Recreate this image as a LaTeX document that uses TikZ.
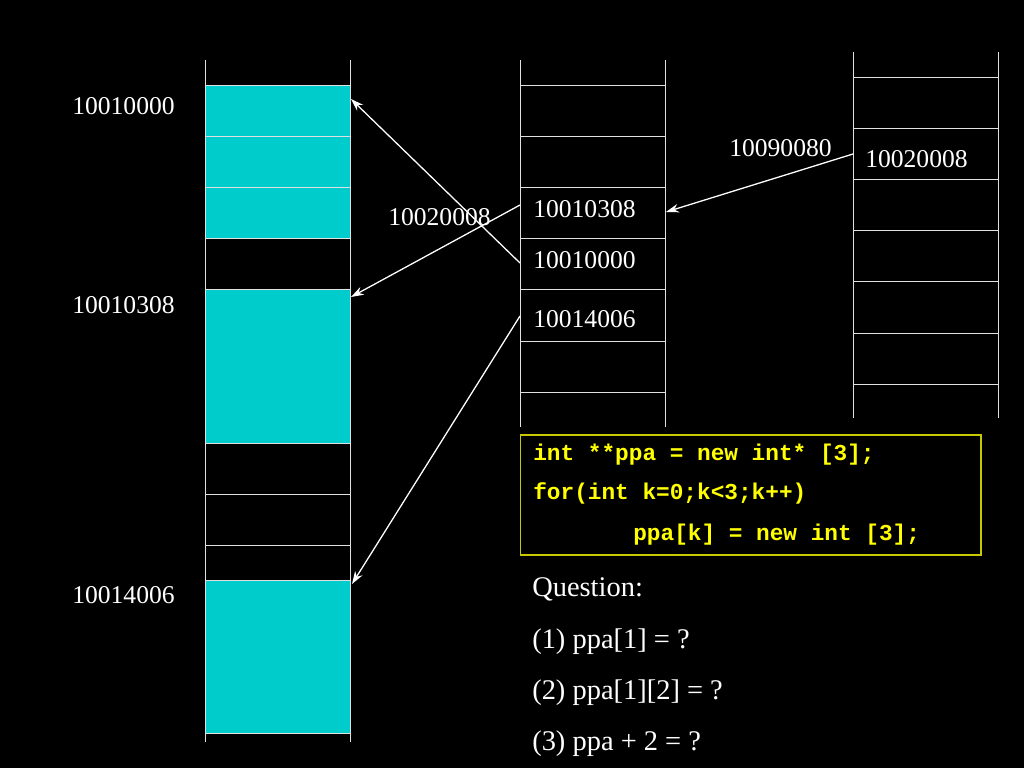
\documentclass[tikz,border=0pt]{standalone}
\usepackage{fontspec}
\setmainfont{Liberation Serif}
\setmonofont{Liberation Mono}
\usetikzlibrary{arrows.meta}
\definecolor{memcyan}{RGB}{0,204,204}
\definecolor{codeyellow}{RGB}{255,255,0}
\definecolor{boxyellow}{RGB}{200,200,0}
\definecolor{gridline}{RGB}{225,225,225}
\tikzset{
  num/.style={font=\fontsize{18}{20}\selectfont,text=white,inner sep=0pt,anchor=base west},
  ques/.style={font=\fontsize{20}{24}\selectfont,text=white,inner sep=0pt,anchor=base west},
  code/.style={font=\fontsize{16}{18}\selectfont\ttfamily\bfseries,text=codeyellow,inner sep=0pt,anchor=base west},
  ptr/.style={draw=white,line width=0.9pt,-{Stealth[length=9pt,width=6pt]}}
}
\begin{document}
\begin{tikzpicture}[x=0.703125pt,y=-0.703125pt]
\fill[black] (0,0) rectangle (1024,768);
\useasboundingbox (0,0) rectangle (1024,768);
% heap blocks
\fill[memcyan] (205,85) rectangle (350,238);
\fill[memcyan] (205,289) rectangle (350,443);
\fill[memcyan] (205,580) rectangle (350,733);
\draw[gridline] (205,60)--(205,742) (350,60)--(350,742);
\foreach \y in {85,136,187,238,289,443,494,545,580,733}
  \draw[gridline] (205,\y)--(350,\y);
% ppa array
\draw[gridline] (520,60)--(520,427) (665,60)--(665,427);
\foreach \y in {85,136,187,238,289,341,392}
  \draw[gridline] (520,\y)--(665,\y);
% stack
\draw[gridline] (853,52)--(853,418) (998,52)--(998,418);
\foreach \y in {77,128,179,230,281,333,384}
  \draw[gridline] (853,\y)--(998,\y);
% addresses
\node[num] (blkA) at (72,115) {10010000};
\node[num] (blkB) at (72,313) {10010308};
\node[num] (blkC) at (72,603) {10014006};
\node[num] (ppaaddr) at (388,226) {10020008};
\node[num] (cellA) at (533,217.5) {10010308};
\node[num] (cellB) at (533,269) {10010000};
\node[num] (cellC) at (533,328) {10014006};
\node[num] (stkaddr) at (729,157) {10090080};
\node[num] (stkval) at (865,167.5) {10020008};
% pointer ends
\coordinate (fromA) at (520,205);
\coordinate (fromB) at (520,263);
\coordinate (fromC) at (520,316);
\coordinate (toA) at (351,99);
\coordinate (toB) at (351,297);
\coordinate (toC) at (352,584);
\coordinate (fromS) at (853,154);
\coordinate (toS) at (666,212);
\draw[ptr] (fromB)--(toA);
\draw[ptr] (fromA)--(toB);
\draw[ptr] (fromC)--(toC);
\draw[ptr] (fromS)--(toS);
% code
\draw[boxyellow,line width=0.8pt] (520.5,435) rectangle (981,555);
\node[code] (line1) at (533,460) {int **ppa = new int* [3];};
\node[code] (line2) at (533,499) {for(int k=0;k<3;k++)};
\node[code] (line3) at (633,540) {ppa[k] = new int [3];};
% questions
\node[ques] (q0) at (532,596) {Question:};
\node[ques] (q1) at (532,648) {(1) ppa[1] = ?};
\node[ques] (q2) at (532,699) {(2) ppa[1][2] = ?};
\node[ques] (q3) at (532,750) {(3) ppa + 2 = ?};
\end{tikzpicture}
\end{document}
